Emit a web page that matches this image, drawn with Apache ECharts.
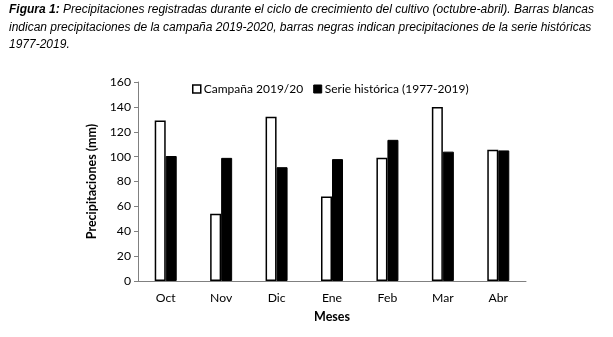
<!DOCTYPE html>
<html>
<head>
<meta charset="utf-8">
<script src="https://cdn.jsdelivr.net/npm/echarts@6/dist/echarts.min.js"></script>
<style>
  html, body { margin: 0; padding: 0; background: #fff; }
  #chart { width: 613px; height: 337px; }
</style>
</head>
<body>
<div id="chart"></div>
<script>
// Monthly rainfall over the growing season (mm)
const meses = ['Oct', 'Nov', 'Dic', 'Ene', 'Feb', 'Mar', 'Abr'];
const campana = [129, 54, 132, 68, 99, 140, 105.5];
const historica = [100.5, 99, 91.5, 98, 113.5, 104, 105];
const yTicks = { min: 0, max: 160, interval: 20 };

const axisFont = 'Lato, "Open Sans", sans-serif';
const captionFont = '"Liberation Sans", Arial, sans-serif';

const chart = echarts.init(document.getElementById('chart'), null, { renderer: 'canvas' });

chart.setOption({
  animation: false,
  backgroundColor: '#ffffff',
  graphic: [
    {
      type: 'text', left: 9, top: 4,
      style: {
        text: '{b|Figura 1:} {i|Precipitaciones registradas durante el ciclo de crecimiento del cultivo (octubre-abril). Barras blancas}\n' +
              '{i|indican precipitaciones de la campaña 2019-2020, barras negras indican precipitaciones de la serie históricas}\n' +
              '{i|1977-2019.}',
        rich: {
          b: { fontFamily: captionFont, fontSize: 12, fontStyle: 'italic', fontWeight: 'bold', fill: '#000', lineHeight: 17.5 },
          i: { fontFamily: captionFont, fontSize: 12, fontStyle: 'italic', fill: '#000', lineHeight: 17.5 }
        }
      }
    }
  ],
  legend: {
    top: 78, left: 187,
    icon: 'rect',
    itemWidth: 8, itemHeight: 8, itemGap: 10,
    textStyle: { fontFamily: axisFont, fontSize: 12, color: '#000', padding: [0, 0, 0, -2] },
    data: [
      { name: 'Campaña 2019/20', itemStyle: { color: '#fff', borderColor: '#000', borderWidth: 1.5 } },
      { name: 'Serie histórica (1977-2019)', itemStyle: { color: '#000', borderColor: '#000', borderWidth: 1 } }
    ]
  },
  grid: { left: 138, right: 87, top: 82, bottom: 56, containLabel: false },
  xAxis: {
    type: 'category',
    data: meses,
    name: 'Meses',
    nameLocation: 'middle',
    nameGap: 29,
    nameTextStyle: { fontFamily: axisFont, fontSize: 12.5, fontWeight: 'bold', color: '#000' },
    axisLine: { lineStyle: { color: '#808080', width: 1 } },
    axisTick: { show: false },
    axisLabel: { fontFamily: axisFont, fontSize: 12.2, color: '#000', margin: 11 }
  },
  yAxis: {
    type: 'value',
    min: yTicks.min, max: yTicks.max, interval: yTicks.interval,
    name: 'Precipitaciones (mm)',
    nameLocation: 'middle',
    nameGap: 40,
    nameTextStyle: { fontFamily: axisFont, fontSize: 12.5, fontWeight: 'bold', color: '#000' },
    axisLine: { show: true, lineStyle: { color: '#808080', width: 1 } },
    axisTick: { show: true, length: 4, lineStyle: { color: '#808080' } },
    axisLabel: { fontFamily: axisFont, fontSize: 12.2, color: '#000', margin: 7 },
    splitLine: { show: false }
  },
  series: [
    {
      name: 'Campaña 2019/20',
      type: 'bar',
      data: campana,
      barWidth: 11,
      barGap: '0%',
      itemStyle: { color: '#fff', borderColor: '#000', borderWidth: 1.5 }
    },
    {
      name: 'Serie histórica (1977-2019)',
      type: 'bar',
      data: historica,
      barWidth: 11,
      itemStyle: { color: '#000', borderColor: '#000', borderWidth: 1 }
    }
  ]
});
</script>
</body>
</html>
